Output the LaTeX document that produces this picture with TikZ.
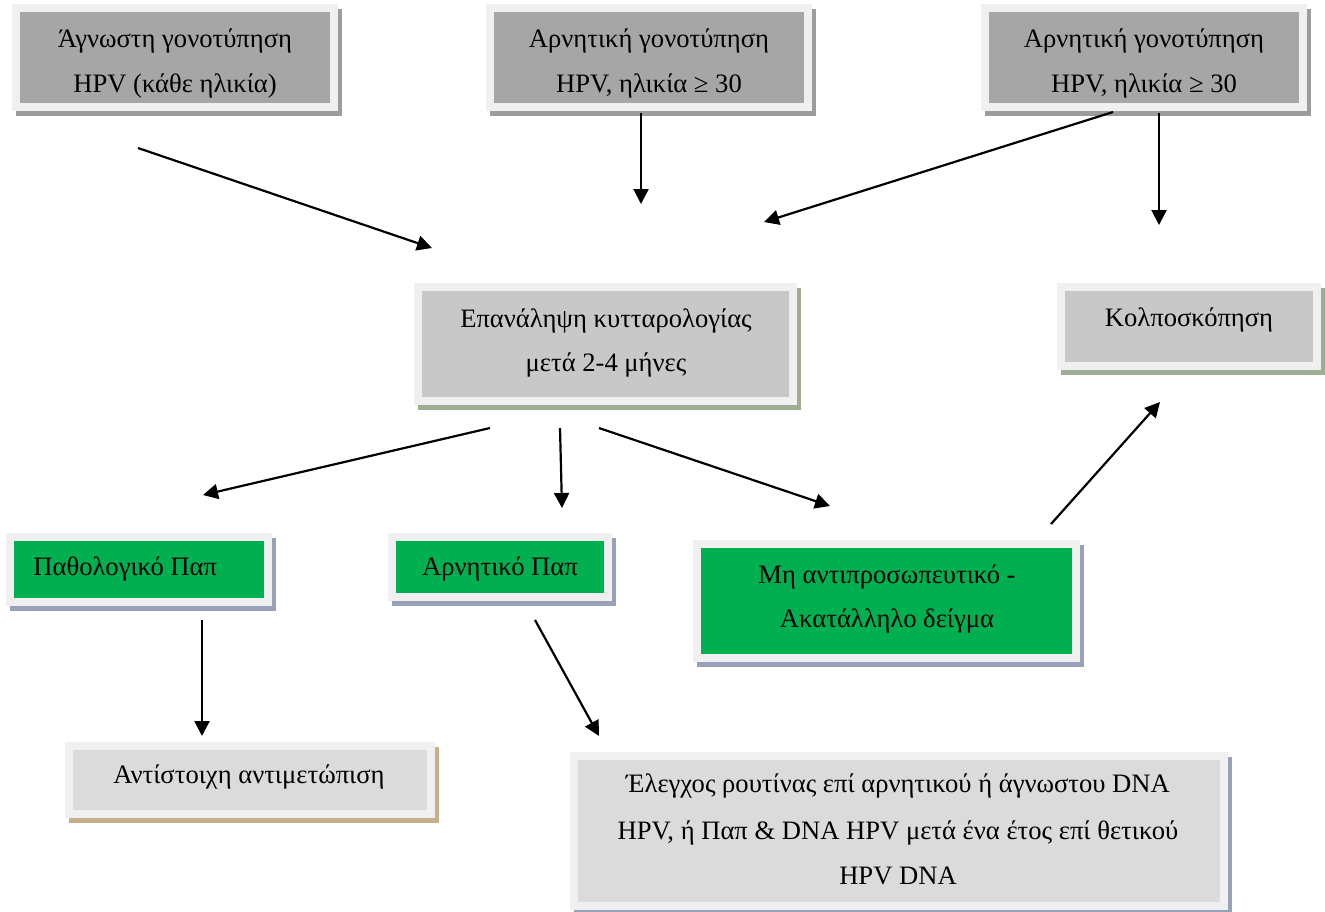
\documentclass[tikz,border=0pt]{standalone}
\usepackage{fontspec}
\setmainfont{Liberation Serif}
\usetikzlibrary{arrows.meta,fit}

\definecolor{frame}{HTML}{F0F0F0}
\definecolor{topfill}{HTML}{A6A6A6}
\definecolor{midfill}{HTML}{C8C8C8}
\definecolor{lowfill}{HTML}{DBDBDB}
\definecolor{okgreen}{HTML}{00B050}
\definecolor{shgray}{HTML}{9C9C9C}
\definecolor{shsage}{HTML}{9DAE95}
\definecolor{shblue}{HTML}{97A1B8}
\definecolor{shtan}{HTML}{C4B089}

\tikzset{
  txt/.style={anchor=base, inner sep=0pt, font=\fontsize{13.3pt}{16pt}\selectfont},
  flow/.style={-{Triangle[length=7.5pt,width=7.5pt]}, line width=1.1pt, black},
}

% #1 name, #2-#5 outer corners (px), #6 face colour, #7 shadow colour, #8 text nodes
\newcommand\flowbox[8]{%
  \fill[#7] (#2+4,#3+5) rectangle (#4+4,#5+5);
  \fill[frame] (#2,#3) rectangle (#4,#5);
  \coordinate (#1-nw) at (#2+8,#3+8);
  \coordinate (#1-se) at (#4-8,#5-8);
  \node[fit=(#1-nw)(#1-se), inner sep=0pt, fill=#6] (#1) {};
  \begin{scope}
    \clip (#2+8,#3+8) rectangle (#4-8,#5-8);
    #8
  \end{scope}}

\begin{document}
\begin{tikzpicture}[x=0.5pt,y=-0.5pt]
\useasboundingbox (0,0) rectangle (1325,911);

% top row
\flowbox{unk}{12}{4}{338}{111}{topfill}{shgray}{%
  \node[txt] (unk1) at (175,47) {Άγνωστη γονοτύπηση};
  \node[txt] (unk2) at (175,92) {HPV (κάθε ηλικία)};}
\flowbox{negA}{486}{4}{812}{111}{topfill}{shgray}{%
  \node[txt] (negA1) at (649,47) {Αρνητική γονοτύπηση};
  \node[txt] (negA2) at (649,92) {HPV, ηλικία ≥ 30};}
\flowbox{negB}{981}{4}{1307}{111}{topfill}{shgray}{%
  \node[txt] (negB1) at (1144,47) {Αρνητική γονοτύπηση};
  \node[txt] (negB2) at (1144,92) {HPV, ηλικία ≥ 30};}

% middle row
\flowbox{rep}{414}{283}{797}{405}{midfill}{shsage}{%
  \node[txt] (rep1) at (606,327) {Επανάληψη κυτταρολογίας};
  \node[txt] (rep2) at (606,371) {μετά 2-4 μήνες};}
\flowbox{colpo}{1057}{283}{1321}{370}{midfill}{shsage}{%
  \node[txt] (colpo1) at (1189,326) {Κολποσκόπηση};}

% results row
\flowbox{abn}{6}{533}{272}{606}{okgreen}{shblue}{%
  \node[txt,anchor=base west] (abn1) at (33,575) {Παθολογικό Παπ};}
\flowbox{neg}{388}{533}{612}{601}{okgreen}{shblue}{%
  \node[txt] (neg1) at (500,575) {Αρνητικό Παπ};}
\flowbox{bad}{693}{540}{1080}{662}{okgreen}{shblue}{%
  \node[txt] (bad1) at (887,583) {Μη αντιπροσωπευτικό -};
  \node[txt] (bad2) at (887,627) {Ακατάλληλο δείγμα};}

% bottom row
\flowbox{treat}{65}{742}{435}{818}{lowfill}{shtan}{%
  \node[txt] (treat1) at (249,783) {Αντίστοιχη αντιμετώπιση};}
\flowbox{routine}{570}{752}{1228}{910}{lowfill}{shblue}{%
  \node[txt] (routine1) at (898,792) {Έλεγχος ρουτίνας επί αρνητικού ή άγνωστου DNA};
  \node[txt] (routine2) at (898,839) {HPV, ή Παπ \& DNA HPV μετά ένα έτος επί θετικού};
  \node[txt] (routine3) at (898,884) {HPV DNA};}

% arrow end points
\coordinate (a1s) at (138,148);  \coordinate (a1e) at (432,248);
\coordinate (a2s) at (641,113);  \coordinate (a2e) at (641,204);
\coordinate (a3s) at (1113,112); \coordinate (a3e) at (764,222);
\coordinate (a4s) at (1159,113); \coordinate (a4e) at (1159,225);
\coordinate (a5s) at (490,428);  \coordinate (a5e) at (203,495);
\coordinate (a6s) at (560,428);  \coordinate (a6e) at (562,508);
\coordinate (a7s) at (599,428);  \coordinate (a7e) at (830,506);
\coordinate (a8s) at (1051,524); \coordinate (a8e) at (1160,402);
\coordinate (a9s) at (202,620);  \coordinate (a9e) at (202,736);
\coordinate (a10s) at (535,620); \coordinate (a10e) at (599,736);

\foreach \k in {1,...,10} \draw[flow] (a\k s) -- (a\k e);
\end{tikzpicture}
\end{document}
